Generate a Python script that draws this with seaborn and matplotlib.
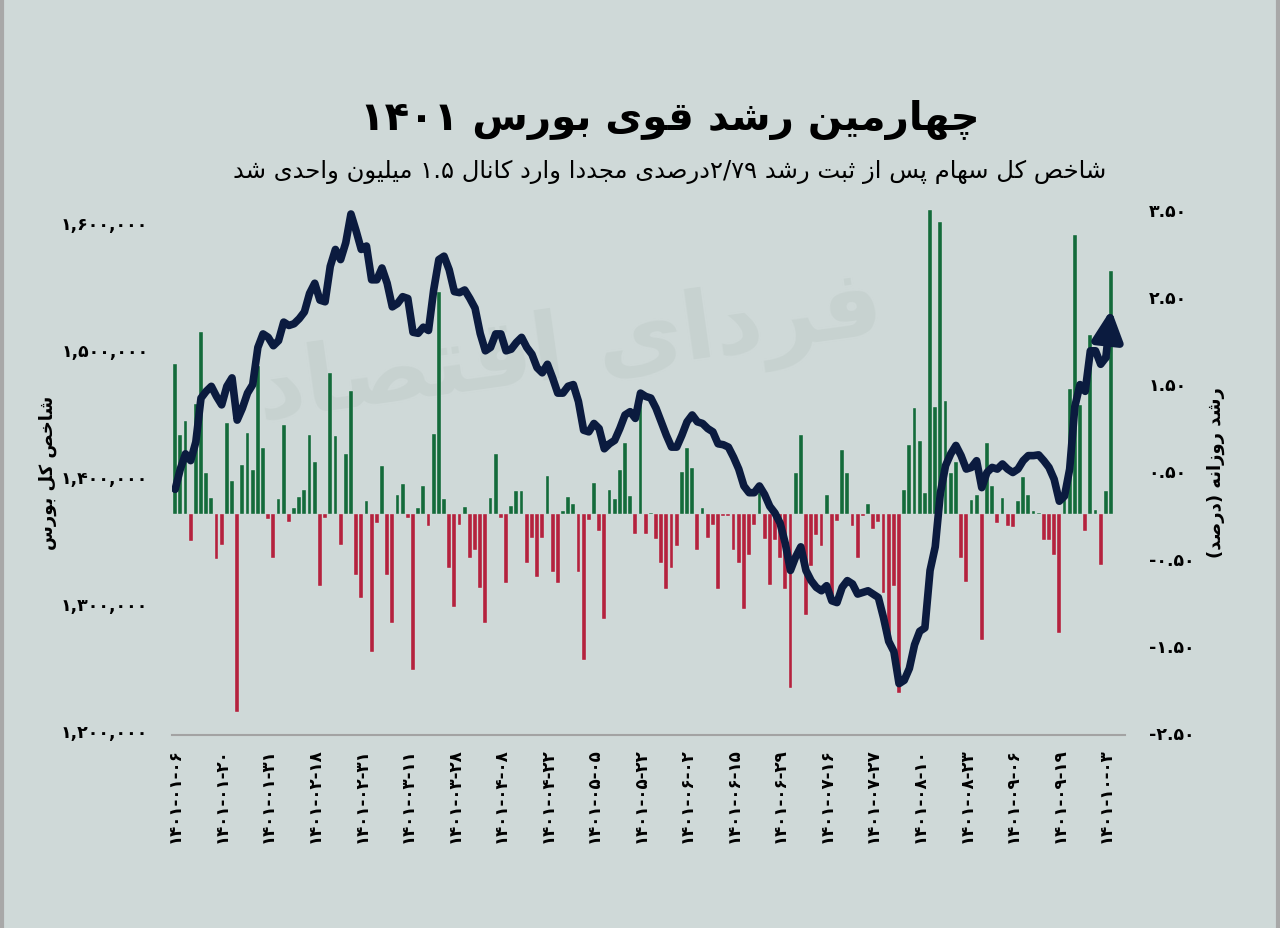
import re
import numpy as np
import pandas as pd
import matplotlib
matplotlib.use('Agg')
import matplotlib.pyplot as plt
import seaborn as sns
from matplotlib.ticker import FuncFormatter
from matplotlib.lines import Line2D

# -------------------- Data --------------------
# daily change of the index (percent), one value per trading day
change = [
    1.72, 0.91, 1.07, -0.31, 1.26, 2.09, 0.47, 0.18, -0.52, -0.35,
    1.05, 0.38, -2.27, 0.56, 0.93, 0.50, 1.70, 0.76, -0.06, -0.50,
    0.17, 1.02, -0.09, 0.07, 0.19, 0.28, 0.91, 0.60, -0.83, -0.04,
    1.62, 0.89, -0.35, 0.69, 1.41, -0.70, -0.96, 0.15, -1.58, -0.10,
    0.55, -0.70, -1.25, 0.22, 0.34, -0.04, -1.79, 0.07, 0.32, -0.14,
    0.92, 2.55, 0.17, -0.62, -1.07, -0.12, 0.08, -0.50, -0.41, -0.85,
    -1.25, 0.18, 0.69, -0.04, -0.79, 0.09, 0.27, 0.26, -0.56, -0.27,
    -0.72, -0.27, 0.44, -0.67, -0.79, 0.03, 0.19, 0.11, -0.66, -1.67,
    -0.07, 0.36, -0.19, -1.20, 0.28, 0.17, 0.51, 0.81, 0.21, -0.23,
    1.30, -0.23, 0.01, -0.29, -0.56, -0.86, -0.62, -0.37, 0.48, 0.76,
    0.53, -0.41, 0.07, -0.27, -0.12, -0.86, -0.02, -0.02, -0.41, -0.56,
    -1.09, -0.47, -0.12, 0.24, -0.29, -0.81, -0.30, -0.50, -0.86, -2.00,
    0.47, 0.91, -1.16, -0.60, -0.24, -0.37, 0.22, -0.93, -0.08, 0.74,
    0.47, -0.14, -0.50, -0.02, 0.11, -0.17, -0.09, -0.91, -1.43, -0.83,
    -2.05, 0.28, 0.79, 1.22, 0.84, 0.24, 3.49, 1.23, 3.35, 1.30,
    0.47, 0.60, -0.50, -0.78, 0.16, 0.22, -1.45, 0.81, 0.32, -0.10,
    0.18, -0.14, -0.15, 0.15, 0.42, 0.22, 0.03, 0.01, -0.30, -0.30,
    -0.47, -1.36, 0.23, 1.43, 3.20, 1.25, -0.19, 2.05, 0.05, -0.59,
    0.27, 2.79,
]

# total index level
index_value = [
    1389350, 1405300, 1417300, 1411950, 1426600, 1461150, 1466500, 1470450, 1462500, 1455850,
    1470450, 1477100, 1443850, 1453200, 1465150, 1471800, 1501050, 1511700, 1509000, 1502400,
    1506400, 1521000, 1518350, 1519700, 1523700, 1529000, 1543600, 1551600, 1538300, 1537000,
    1564900, 1578200, 1570200, 1583500, 1606100, 1592800, 1578200, 1580900, 1554300, 1554300,
    1563600, 1551600, 1533000, 1535600, 1541000, 1539600, 1513000, 1512200, 1517000, 1514400,
    1546300, 1570200, 1572900, 1562200, 1545000, 1544200, 1546300, 1539600, 1532000, 1512000,
    1498400, 1501100, 1511700, 1511700, 1498400, 1499700, 1505000, 1509000, 1501100, 1495700,
    1485100, 1481100, 1487800, 1477100, 1465100, 1465100, 1470500, 1471800, 1458500, 1435900,
    1434600, 1441200, 1437200, 1421300, 1425200, 1427900, 1437200, 1447900, 1450500, 1445200,
    1465100, 1462500, 1461200, 1453200, 1442500, 1431900, 1422600, 1422600, 1431900, 1442500,
    1447900, 1442500, 1441200, 1437200, 1434600, 1425200, 1424500, 1422600, 1414600, 1405300,
    1392000, 1386700, 1386700, 1392000, 1385300, 1376000, 1370700, 1362700, 1346800, 1325500,
    1336100, 1344100, 1325500, 1317500, 1312200, 1309500, 1313500, 1301600, 1300200, 1312200,
    1317500, 1314900, 1306900, 1308200, 1309500, 1306900, 1304200, 1288300, 1269700, 1261700,
    1236400, 1239000, 1248400, 1267000, 1277600, 1280300, 1325500, 1344100, 1386700, 1408000,
    1417300, 1423900, 1415900, 1405300, 1406600, 1411900, 1390700, 1402600, 1406600, 1405300,
    1409300, 1405300, 1402600, 1405300, 1411900, 1415900, 1415900, 1416500, 1411900, 1406600,
    1397300, 1380000, 1384000, 1405300, 1454500, 1471800, 1466500, 1498400, 1498400, 1487800,
    1493100, 1531000,
]

# one date label every 9 trading days
tick_dates = [
    '1401-01-06', '1401-01-20', '1401-01-31', '1401-02-18', '1401-02-31', '1401-03-11',
    '1401-03-28', '1401-04-08', '1401-04-22', '1401-05-05', '1401-05-22', '1401-06-02',
    '1401-06-15', '1401-06-29', '1401-07-16', '1401-07-27', '1401-08-10', '1401-08-23',
    '1401-09-06', '1401-09-19', '1401-10-03',
]
tick_step = 9

left_ticks = [1200000, 1300000, 1400000, 1500000, 1600000]
right_ticks = [-2.5, -1.5, -0.5, 0.5, 1.5, 2.5, 3.5]

title_text = 'چهارمین رشد قوی بورس 1401'
subtitle_text = 'شاخص کل سهام پس از ثبت رشد 2/79درصدی مجددا وارد کانال 1.5 میلیون واحدی شد'
left_label = 'شاخص کل بورس'
right_label = 'رشد روزانه (درصد)'
watermark_text = 'فردای اقتصاد'

# -------------------- Persian text helpers --------------------
# matplotlib has no shaping / bidi, so letters are mapped to presentation forms
FA_DIGITS = str.maketrans('0123456789', '۰۱۲۳۴۵۶۷۸۹')
MIRROR = str.maketrans('()', ')(')
FORMS = {
    'ا': 'FE8D FE8E', 'د': 'FEA9 FEAA', 'ذ': 'FEAB FEAC', 'ر': 'FEAD FEAE',
    'ز': 'FEAF FEB0', 'و': 'FEED FEEE',
    'ب': 'FE8F FE90 FE91 FE92', 'پ': 'FB56 FB57 FB58 FB59', 'ت': 'FE95 FE96 FE97 FE98',
    'ث': 'FE99 FE9A FE9B FE9C', 'ج': 'FE9D FE9E FE9F FEA0', 'چ': 'FB7A FB7B FB7C FB7D',
    'ح': 'FEA1 FEA2 FEA3 FEA4', 'خ': 'FEA5 FEA6 FEA7 FEA8', 'س': 'FEB1 FEB2 FEB3 FEB4',
    'ش': 'FEB5 FEB6 FEB7 FEB8', 'ص': 'FEB9 FEBA FEBB FEBC', 'ف': 'FED1 FED2 FED3 FED4',
    'ق': 'FED5 FED6 FED7 FED8', 'ک': 'FB8E FB8F FB90 FB91', 'ل': 'FEDD FEDE FEDF FEE0',
    'م': 'FEE1 FEE2 FEE3 FEE4', 'ن': 'FEE5 FEE6 FEE7 FEE8', 'ه': 'FEE9 FEEA FEEB FEEC',
    'ی': 'FBFC FBFD FBFE FBFF',
}


def shape(word):
    out = []
    for i, ch in enumerate(word):
        if ch not in FORMS:
            out.append(ch)
            continue
        f = [chr(int(h, 16)) for h in FORMS[ch].split()]
        prev = word[i - 1] if i > 0 else ''
        nxt = word[i + 1] if i + 1 < len(word) else ''
        join_prev = prev in FORMS and len(FORMS[prev].split()) == 4
        join_next = len(f) == 4 and nxt in FORMS
        if join_prev and join_next:
            out.append(f[3])
        elif join_prev:
            out.append(f[1])
        elif join_next:
            out.append(f[2])
        else:
            out.append(f[0])
    return ''.join(out)


def rtl(text):
    text = text.replace('ي', 'ی').replace('ك', 'ک').translate(FA_DIGITS)
    words = []
    for w in reversed(text.split(' ')):
        runs = re.findall(r'[\u0621-\u06D3]+|[^\u0621-\u06D3]+', w)
        parts = [shape(r)[::-1] if re.match(r'[\u0621-\u06D3]', r) else r.translate(MIRROR)
                 for r in runs]
        words.append(''.join(reversed(parts)))
    return ' '.join(words)


# -------------------- Style --------------------
BG = '#cfd9d8'
GREEN = '#06793a'
RED = '#cc0a2f'
NAVY = '#0b1b3f'

sns.set_style('white', {'axes.facecolor': BG, 'figure.facecolor': BG})
plt.rcParams['font.family'] = ['DejaVu Sans']
plt.rcParams['font.weight'] = 'bold'
plt.rcParams['axes.labelweight'] = 'bold'
for key in ('text.color', 'axes.labelcolor', 'xtick.color', 'ytick.color'):
    plt.rcParams[key] = 'black'

df = pd.DataFrame({'day': range(len(change)), 'change': change, 'index': index_value})
df['sign'] = np.where(df['change'] >= 0, 'up', 'down')

fig = plt.figure(figsize=(12.8, 9.29), dpi=100)
ax = fig.add_axes([0.1344, 0.2078, 0.7445, 0.5661])
ax_bar = ax.twinx()
ax.set_zorder(ax_bar.get_zorder() + 1)
ax.patch.set_visible(False)

# faint watermark
fig.text(0.445, 0.62, rtl(watermark_text), ha='center', va='center', fontsize=68,
         color='#c7d2d0', rotation=8, zorder=-1)

# -------------------- Bars (daily change) --------------------
sns.barplot(data=df, x='day', y='change', hue='sign', palette={'up': GREEN, 'down': RED},
            dodge=False, width=0.74, legend=False, ax=ax_bar,
            edgecolor='#dfe7e5', linewidth=0.25)

# -------------------- Line (index) --------------------
sns.lineplot(data=df.iloc[:-1], x='day', y='index', color=NAVY, linewidth=5.5, ax=ax)
ax.lines[0].set_solid_joinstyle('round')
ax.lines[0].set_solid_capstyle('round')
ax.annotate('', xy=(df['day'].iloc[-1], df['index'].iloc[-1]),
            xytext=(df['day'].iloc[-2], df['index'].iloc[-2]),
            arrowprops=dict(arrowstyle='-|>,head_length=0.9,head_width=0.45', color=NAVY,
                            lw=5.5, shrinkA=0, shrinkB=0, mutation_scale=20))

# -------------------- Axes --------------------
ax.set_xlim(-0.6, 183.7)
ax.set_ylim(1196000, 1610000)
ax_bar.set_ylim(-2.535, 3.5)

ax.set_xticks(range(0, len(change), tick_step))
ax.set_xticklabels([d.translate(FA_DIGITS) for d in tick_dates], rotation=90, fontsize=12)
ax.set_yticks(left_ticks)
ax.yaxis.set_major_formatter(FuncFormatter(lambda v, p: f'{v:,.0f}'.translate(FA_DIGITS)))
ax_bar.set_yticks(right_ticks)
ax_bar.yaxis.set_major_formatter(FuncFormatter(lambda v, p: f'{v:.2f}'.translate(FA_DIGITS)))

ax.tick_params(axis='x', length=0, pad=9)
ax.tick_params(axis='y', length=0, pad=17, labelsize=12.5)
ax_bar.tick_params(axis='y', length=0, pad=17, labelsize=12.5)

ax.set_xlabel('')
ax_bar.set_xlabel('')
ax.set_ylabel(rtl(left_label), fontsize=13)
ax_bar.set_ylabel(rtl(right_label), fontsize=13)
ax.yaxis.set_label_coords(-0.121, 0.5)
ax_bar.yaxis.set_label_coords(1.086, 0.5)

for a in (ax, ax_bar):
    for s in ('top', 'left', 'right'):
        a.spines[s].set_visible(False)
ax_bar.spines['bottom'].set_visible(False)
ax.spines['bottom'].set_color('#a3a3a3')
ax.spines['bottom'].set_linewidth(1.5)

# -------------------- Titles --------------------
fig.text(0.523, 0.871, rtl(title_text), ha='center', va='center', fontsize=29, fontweight='heavy')
fig.text(0.523, 0.815, rtl(subtitle_text), ha='center', va='center', fontsize=17.5,
         fontweight='normal')

# grey side borders of the card
for x in (0.0015, 0.9985):
    fig.add_artist(Line2D([x, x], [0, 1], color='#a8a8a8', lw=3, transform=fig.transFigure))

fig.savefig('out.png', dpi=100, facecolor=BG)
